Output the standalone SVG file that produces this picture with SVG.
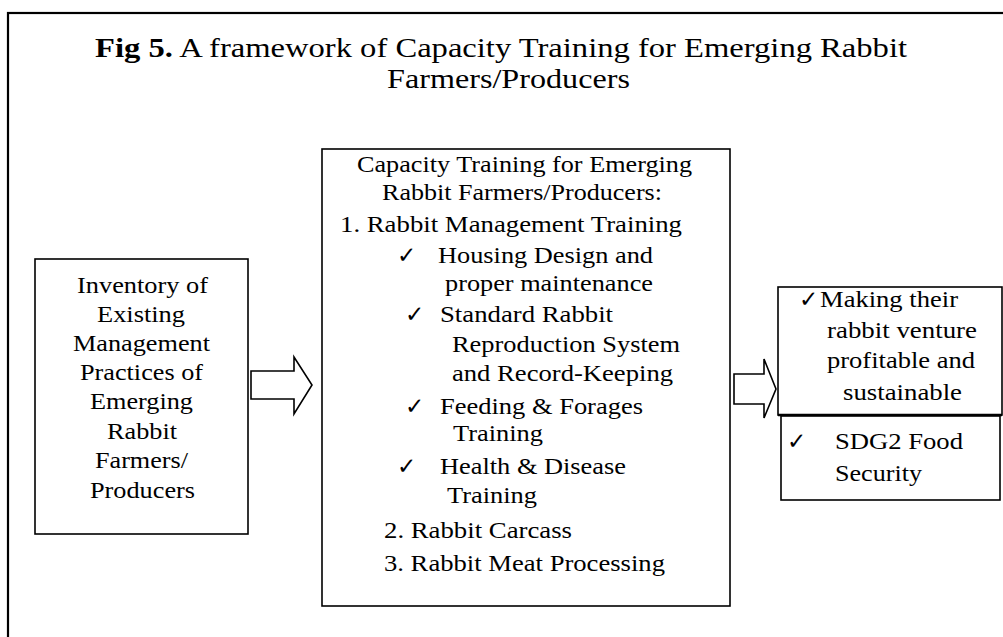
<svg xmlns="http://www.w3.org/2000/svg" width="1003" height="637" viewBox="0 0 1003 637">
  <style>
    .t { font-family: "Liberation Serif", "Times New Roman", serif; font-size: 23px; fill: #000; }
    .title { font-family: "Liberation Serif", "Times New Roman", serif; font-size: 28px; fill: #000; }
    .ck { font-family: "DejaVu Sans", sans-serif; font-size: 23px; fill: #000; }
    .box { fill: #fff; stroke: #000; stroke-width: 1.6; }
    .arrow { fill: #fff; stroke: #000; stroke-width: 1.6; stroke-linejoin: miter; }
  </style>

  <rect width="1003" height="637" fill="#fff"/>

  <!-- outer frame -->
  <rect x="8" y="13" width="1000" height="640" fill="none" stroke="#000" stroke-width="2.2"/>

  <!-- title -->
  <g id="title">
    <text class="title" x="95" y="57" textLength="812" lengthAdjust="spacingAndGlyphs"><tspan font-weight="bold">Fig 5.</tspan> A framework of Capacity Training for Emerging Rabbit</text>
    <text class="title" x="387" y="88" textLength="243" lengthAdjust="spacingAndGlyphs">Farmers/Producers</text>
  </g>

  <!-- connectors -->
  <g id="connectors">
    <polygon class="arrow" points="251,371 294,371 294,357 312,385 294,414 294,399 251,399"/>
    <polygon class="arrow" points="734,374 764,374 764,359 776,389 764,418 764,404 734,404"/>
  </g>

  <!-- inventory node -->
  <g id="inventory">
    <rect class="box" x="35" y="259" width="213" height="275"/>
    <text class="t" x="77" y="293" textLength="131" lengthAdjust="spacingAndGlyphs">Inventory of</text>
    <text class="t" x="97" y="322" textLength="88" lengthAdjust="spacingAndGlyphs">Existing</text>
    <text class="t" x="73" y="351" textLength="137" lengthAdjust="spacingAndGlyphs">Management</text>
    <text class="t" x="80" y="380" textLength="123" lengthAdjust="spacingAndGlyphs">Practices of</text>
    <text class="t" x="90" y="409" textLength="103" lengthAdjust="spacingAndGlyphs">Emerging</text>
    <text class="t" x="107" y="439" textLength="70" lengthAdjust="spacingAndGlyphs">Rabbit</text>
    <text class="t" x="95" y="468" textLength="93" lengthAdjust="spacingAndGlyphs">Farmers/</text>
    <text class="t" x="90" y="498" textLength="105" lengthAdjust="spacingAndGlyphs">Producers</text>
  </g>

  <!-- capacity training node -->
  <g id="training">
    <rect class="box" x="322" y="149" width="408" height="457" stroke-width="2"/>
    <text class="t" x="357" y="172" textLength="335" lengthAdjust="spacingAndGlyphs">Capacity Training for Emerging</text>
    <text class="t" x="382" y="200" textLength="280" lengthAdjust="spacingAndGlyphs">Rabbit Farmers/Producers:</text>
    <text class="t" x="340" y="232" textLength="342" lengthAdjust="spacingAndGlyphs">1. Rabbit Management Training</text>
    <text class="ck" x="397" y="263">✓</text>
    <text class="t" x="438" y="263" textLength="215" lengthAdjust="spacingAndGlyphs">Housing Design and</text>
    <text class="t" x="445" y="291" textLength="208" lengthAdjust="spacingAndGlyphs">proper maintenance</text>
    <text class="ck" x="405" y="322">✓</text>
    <text class="t" x="440" y="322" textLength="173" lengthAdjust="spacingAndGlyphs">Standard Rabbit</text>
    <text class="t" x="452" y="352" textLength="228" lengthAdjust="spacingAndGlyphs">Reproduction System</text>
    <text class="t" x="452" y="381" textLength="221" lengthAdjust="spacingAndGlyphs">and Record-Keeping</text>
    <text class="ck" x="405" y="414">✓</text>
    <text class="t" x="440" y="414" textLength="203" lengthAdjust="spacingAndGlyphs">Feeding &amp; Forages</text>
    <text class="t" x="453" y="441" textLength="90" lengthAdjust="spacingAndGlyphs">Training</text>
    <text class="ck" x="397" y="474">✓</text>
    <text class="t" x="440" y="474" textLength="186" lengthAdjust="spacingAndGlyphs">Health &amp; Disease</text>
    <text class="t" x="447" y="503" textLength="90" lengthAdjust="spacingAndGlyphs">Training</text>
    <text class="t" x="384" y="538" textLength="188" lengthAdjust="spacingAndGlyphs">2. Rabbit Carcass</text>
    <text class="t" x="384" y="571" textLength="281" lengthAdjust="spacingAndGlyphs">3. Rabbit Meat Processing</text>
  </g>

  <!-- outcome: profitable venture -->
  <g id="outcome-venture">
    <rect class="box" x="778" y="287" width="224" height="128"/>
    <line x1="778" y1="415" x2="1002" y2="415" stroke="#000" stroke-width="2.6"/>
    <text class="ck" x="799" y="307">✓</text>
    <text class="t" x="820" y="307" textLength="138" lengthAdjust="spacingAndGlyphs">Making their</text>
    <text class="t" x="827" y="338" textLength="150" lengthAdjust="spacingAndGlyphs">rabbit venture</text>
    <text class="t" x="827" y="368" textLength="148" lengthAdjust="spacingAndGlyphs">profitable and</text>
    <text class="t" x="843" y="400" textLength="119" lengthAdjust="spacingAndGlyphs">sustainable</text>
  </g>

  <!-- outcome: food security -->
  <g id="outcome-sdg2">
    <rect class="box" x="781" y="416" width="219" height="84" fill="none"/>
    <text class="ck" x="787" y="449">✓</text>
    <text class="t" x="835" y="449" textLength="128" lengthAdjust="spacingAndGlyphs">SDG2 Food</text>
    <text class="t" x="835" y="481" textLength="87" lengthAdjust="spacingAndGlyphs">Security</text>
  </g>
</svg>
